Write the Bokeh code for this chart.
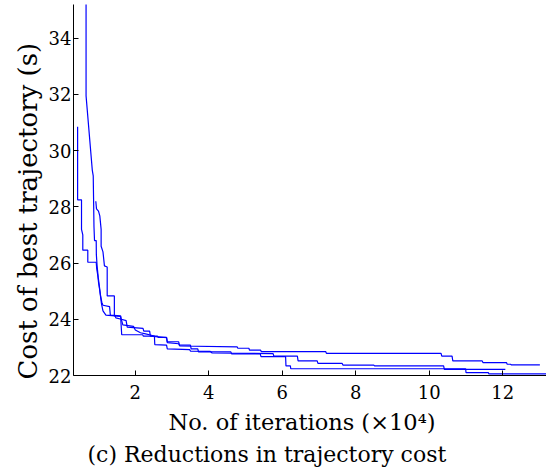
from bokeh.plotting import figure
from bokeh.models import Range1d, FixedTicker, Title
from bokeh.embed import file_html
from bokeh.resources import INLINE

# ---- data (iterations in units of 1e4, cost in seconds) ----
run1_iter = [0.43, 0.43, 0.536, 0.536, 0.571, 0.571, 0.707, 0.707, 0.936, 0.95, 0.98, 1.0,
             1.03, 1.06, 1.09, 1.12, 1.30, 1.32, 1.60, 1.62, 1.75, 1.78, 2.21, 2.23, 2.39,
             2.41, 2.85, 2.87, 3.18, 3.21, 4.77, 4.79, 5.09, 5.11, 5.41, 5.43, 7.18, 7.20,
             10.32, 10.34, 10.62, 10.64, 11.44, 11.46, 12.10, 12.12, 12.21, 12.23, 13.01]
run1_cost = [30.85, 28.25, 28.25, 27.2, 27.0, 26.46, 26.46, 26.03, 26.03, 25.8, 25.55, 25.3,
             25.05, 24.8, 24.6, 24.5, 24.45, 24.15, 24.12, 24.0, 23.95, 23.72, 23.68, 23.58, 23.58,
             23.40, 23.35, 23.17, 23.13, 23.05, 23.02, 22.97, 22.97, 22.90, 22.90, 22.85, 22.85, 22.79,
             22.79, 22.69, 22.69, 22.52, 22.52, 22.46, 22.46, 22.40, 22.40, 22.38, 22.38]

run2_iter = [0.66, 0.66, 0.83, 0.855, 0.875, 0.89, 0.936, 0.94, 0.96, 0.99,
             1.02, 1.05, 1.08, 1.12, 1.20, 1.45, 1.47, 1.62, 1.66, 1.95,
             2.00, 2.14, 2.28, 2.41, 2.52, 2.53, 2.85, 2.87, 3.48, 3.50,
             4.04, 4.09, 5.75, 5.77, 6.41, 6.43, 6.95, 6.97, 7.63, 7.65,
             8.49, 8.51, 10.39, 10.41, 12.07]
run2_cost = [36.0, 31.95, 29.3, 29.1, 27.3, 26.8, 26.8, 26.3, 25.9, 25.5,
             25.2, 24.85, 24.55, 24.3, 24.15, 24.12, 24.05, 24.0, 23.8, 23.75,
             23.62, 23.52, 23.48, 23.44, 23.40, 23.10, 23.08, 22.95, 22.92, 22.87,
             22.86, 22.80, 22.78, 22.69, 22.69, 22.52, 22.52, 22.43, 22.43, 22.37,
             22.37, 22.34, 22.34, 22.22, 22.22]

run3_iter = [0.925, 0.944, 0.998, 1.034, 1.07, 1.07, 1.12, 1.16, 1.235, 1.235,
             1.43, 1.43, 1.60, 1.63, 2.20, 2.22, 2.60, 2.62, 2.85, 2.87,
             3.18, 3.20, 3.50, 3.52, 3.70, 3.72, 4.60, 4.62, 5.40, 5.42,
             6.09, 6.10, 6.22, 6.23, 10.99, 11.00, 11.61, 11.62, 13.30]
run3_cost = [28.2, 27.93, 27.85, 27.68, 27.2, 26.6, 26.4, 25.9, 25.86, 24.83,
             24.83, 24.12, 24.10, 23.45, 23.45, 23.40, 23.40, 23.36, 23.36, 23.20,
             23.20, 23.08, 23.08, 22.95, 22.95, 22.84, 22.84, 22.77, 22.77, 22.67,
             22.67, 22.34, 22.34, 22.24, 22.24, 22.10, 22.10, 22.06, 22.06]

x_ticks = [2, 4, 6, 8, 10, 12]
y_ticks = [22, 24, 26, 28, 30, 32, 34]

x_label = "No. of iterations (\u00d710\u2074)"
y_label = "Cost of best trajectory (s)"
caption = "(c) Reductions in trajectory cost"

FONT = "DejaVu Serif"

p = figure(width=546, height=476, output_backend="svg", toolbar_location=None,
           x_range=Range1d(0.318, 13.19), y_range=Range1d(22, 35.2))
p.min_border_left = 73
p.min_border_right = 0
p.min_border_top = 4
p.min_border_bottom = 101
p.outline_line_color = None
p.grid.visible = False
p.background_fill_color = "white"
p.border_fill_color = "white"

for xs, ys in [(run1_iter, run1_cost), (run2_iter, run2_cost), (run3_iter, run3_cost)]:
    p.line(xs, ys, line_color="#0000ff", line_width=1.2)

for ax, ticks in [(p.xaxis[0], x_ticks), (p.yaxis[0], y_ticks)]:
    ax.ticker = FixedTicker(ticks=ticks)
    ax.minor_tick_line_color = None
    ax.major_tick_in = 5
    ax.major_tick_out = 0
    ax.axis_line_color = "black"
    ax.major_tick_line_color = "black"
    ax.major_label_text_font = FONT
    ax.major_label_text_font_size = "18px"
    ax.major_label_text_color = "black"
p.xaxis.major_label_standoff = 9
p.yaxis.major_label_standoff = 2

p.add_layout(Title(text=x_label, align="left", offset=95, standoff=10,
                   text_font=FONT, text_font_size="22.5px", text_font_style="normal",
                   text_color="black"), "below")
p.add_layout(Title(text=caption, align="left", offset=14, standoff=0,
                   text_font=FONT, text_font_size="22px", text_font_style="normal",
                   text_color="black"), "below")
p.add_layout(Title(text=y_label, align="left", offset=-4, standoff=5,
                   text_font=FONT, text_font_size="26px", text_font_style="normal",
                   text_color="black"), "left")

open("out.html", "w").write(file_html(p, INLINE))
